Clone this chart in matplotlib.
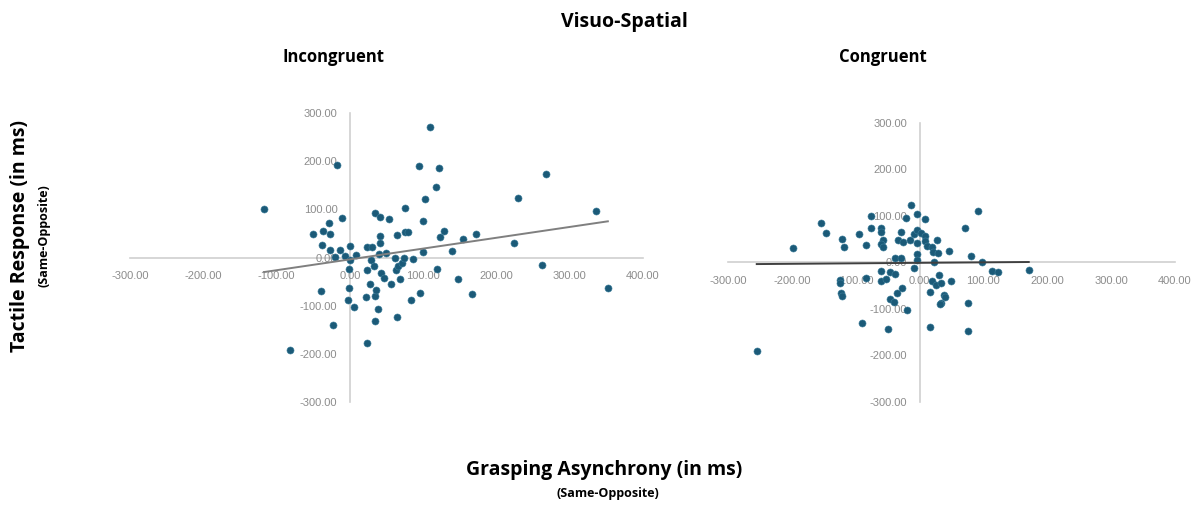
import numpy as np
import matplotlib
matplotlib.use("Agg")
import matplotlib.pyplot as plt
from matplotlib.ticker import FormatStrFormatter

# Incongruent: grasping asynchrony (x) vs tactile response (y), ms
incong_x = [-117, -82, -50, -40, -38, -37, -28, -27, -27, -23, -20, -18, -13, -11,
            -7, 0, 0, -1, -1, -2, 5, 9, 22, 23, 24, 24, 27, 29, 30, 33, 34, 34,
            34, 35, 38, 41, 41, 41, 40, 43, 47, 49, 53, 56, 62, 63, 64, 64, 66,
            69, 71, 74, 75, 75, 79, 83, 86, 95, 96, 100, 100, 103, 110, 118, 119,
            122, 123, 129, 139, 148, 155, 167, 172, 224, 229, 262, 268, 336, 352]
incong_y = [100, -193, 49, -70, 25, 54, 72, 49, 16, -140, 1, 192, 16, 82,
            3, 24, -6, -23, -64, -88, -103, 6, -81, -177, -26, 22, -56, -6, 22, -17, 93, -79,
            -131, -67, -106, 85, 44, 31, 8, -32, -43, 9, 80, -56, -2, -26, 46, -123, -18,
            -44, -12, 0, 102, 53, 53, -89, -4, 191, -74, 76, 12, 121, 271, 146, -24,
            185, 42, 56, 13, -45, 39, -75, 49, 30, 124, -15, 173, 96, -63]

# Congruent
cong_x = [-255, -199, -155, -147, -122, -119, -125, -124, -123, -122, -95, -84, -84,
          -90, -76, -76, -60, -60, -58, -61, -58, -61, -61, -52, -46, -38, -38, -29,
          -29, -33, -26, -21, -14, -15, -9, -4, -4, -4, -4, -4, -9, 3, 8, 9, 9, 11,
          19, 21, 27, 29, 46, 23, 31, 19, 25, 34, 50, 16, 38, 40, 33, 32, 17, -19,
          -27, -35, -47, -40, -50, 91, 71, 80, 98, 113, 123, 171, 76, 76]
cong_y = [-191, 31, 85, 64, 51, 33, -37, -44, -65, -71, 61, 38, -34,
          -130, 99, 75, 75, 66, 49, 40, 33, -19, -40, -35, -21, -24, 10, 9,
          65, 49, 44, 96, 124, 49, 61, 104, 70, 42, 19, 6, -12, 63, 94, 56, 46, 36,
          33, 22, 49, 21, 25, 0, -27, -39, -48, -45, -39, -64, -70, -75, -87, -89, -139, -103,
          -55, -66, -78, -85, -143, 111, 74, 14, 1, -19, -21, -17, -87, -148]

tick_vals_x = [-300, -200, -100, 0, 100, 200, 300, 400]
tick_vals_y = [-300, -200, -100, 0, 100, 200, 300]

dot_color = "#1b5a78"
axis_color = "#d0d0d0"
tick_color = "#8c8c8c"
head_font = ["Open Sans", "DejaVu Sans"]


def draw_panel(ax, xs, ys, line_color):
    ax.scatter(xs, ys, s=26, color=dot_color, edgecolors="#3f7f9c",
               linewidths=0.4, zorder=3)
    coef = np.polyfit(xs, ys, 1)
    lx = np.array([min(xs), max(xs)])
    ax.plot(lx, np.polyval(coef, lx), color=line_color, lw=1.4, zorder=4)

    ax.set_xlim(-300, 400)
    ax.set_ylim(-300, 300)
    for side in ["top", "right"]:
        ax.spines[side].set_visible(False)
    ax.spines["left"].set_position(("data", 0))
    ax.spines["bottom"].set_position(("data", 0))
    for side in ["left", "bottom"]:
        ax.spines[side].set_color(axis_color)
        ax.spines[side].set_linewidth(1.2)
        ax.spines[side].set_zorder(1)
    ax.set_xticks(tick_vals_x)
    ax.set_yticks(tick_vals_y)
    ax.xaxis.set_major_formatter(FormatStrFormatter("%.2f"))
    ax.yaxis.set_major_formatter(FormatStrFormatter("%.2f"))
    ax.tick_params(axis="x", length=0, pad=10, labelsize=8, labelcolor=tick_color)
    ax.tick_params(axis="y", length=0, pad=9, labelsize=8, labelcolor=tick_color)
    for lab in ax.get_xticklabels() + ax.get_yticklabels():
        lab.set_family(["Liberation Sans", "DejaVu Sans"])
    ax.patch.set_alpha(0)


fig = plt.figure(figsize=(11.97, 5.07), dpi=100)
ax1 = fig.add_axes([0.1086, 0.2071, 0.4286, 0.570])
ax2 = fig.add_axes([0.6082, 0.2071, 0.3734, 0.5503])

draw_panel(ax1, incong_x, incong_y, "#7f7f7f")
draw_panel(ax2, cong_x, cong_y, "#404040")

fig.text(333 / 1197, 1 - 57 / 507, "Incongruent", family=head_font,
         fontweight="bold", fontsize=12, ha="center", va="center")
fig.text(883 / 1197, 1 - 57 / 507, "Congruent", family=head_font,
         fontweight="bold", fontsize=12, ha="center", va="center")

fig.text(0.522, 0.957, "Visuo-Spatial", family=head_font, fontweight="bold",
         fontsize=14, ha="center", va="center")
fig.text(0.017, 0.535, "Tactile Response (in ms)", family=head_font,
         fontweight="bold", fontsize=14, rotation=90, ha="center", va="center")
fig.text(0.037, 0.535, "(Same-Opposite)", family=head_font,
         fontweight="bold", fontsize=9, rotation=90, ha="center", va="center")
fig.text(0.505, 0.073, "Grasping Asynchrony (in ms)", family=head_font,
         fontweight="bold", fontsize=14, ha="center", va="center")
fig.text(0.508, 0.026, "(Same-Opposite)", family=head_font,
         fontweight="bold", fontsize=9, ha="center", va="center")

fig.savefig("out.png", dpi=100)
